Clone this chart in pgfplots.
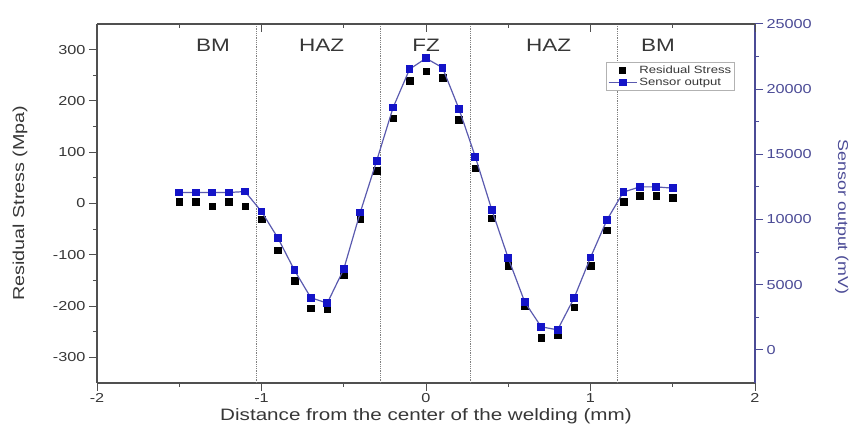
\documentclass[border=0pt]{standalone}
\usepackage{fontspec}
\setmainfont{Liberation Sans}[FakeStretch=1.25]
\usepackage{pgfplots}
\usepackage{pgfplotstable}
\pgfplotsset{compat=1.18}

\definecolor{axgray}{RGB}{80,80,80}
\definecolor{txtgray}{RGB}{55,55,55}
\definecolor{sensline}{RGB}{90,90,175}
\definecolor{sensmark}{RGB}{20,20,200}
\definecolor{sensaxis}{RGB}{75,75,150}

% distance (mm), residual stress (MPa), sensor output (mV)
\pgfplotstableread{
x     stress  sensor
-1.5    4     12070
-1.4    4     12070
-1.3   -5     12070
-1.2    4     12070
-1.1   -5     12140
-1.0  -31     10610
-0.9  -91      8570
-0.8 -151      6110
-0.7 -204      3990
-0.6 -206      3580
-0.5 -140      6190
-0.4  -30     10530
-0.3   64     14500
-0.2  166     18590
-0.1  240     21530
 0.0  258     22370
 0.1  245     21650
 0.2  163     18500
 0.3   69     14800
 0.4  -29     10740
 0.5 -121      7030
 0.6 -200      3670
 0.7 -262      1760
 0.8 -256      1530
 0.9 -202      3970
 1.0 -121      7080
 1.1  -52      9970
 1.2    4     12100
 1.3   15     12500
 1.4   15     12500
 1.5   11     12400
}\datatab

\begin{document}
\begin{tikzpicture}
\path[use as bounding box] (0,0) rectangle (858pt,427pt);
\pgfplotsset{every axis/.append style={
    scale only axis, width=658pt, height=359pt,
    at={(97pt,44pt)}, anchor=south west,
    xmin=-2, xmax=2,
    /pgf/number format/assume math mode=true,
    /pgf/number format/1000 sep={},
    major tick length=8pt, minor tick length=4pt,
    tick label style={font=\fontsize{13}{13}\selectfont, text=txtgray},
}}

% left axis: residual stress
\begin{axis}[
    axis x line*=bottom, axis y line*=left,
    ymin=-350, ymax=350,
    xtick={-2,-1,0,1,2}, minor x tick num=1,
    ytick={-300,-200,...,300}, minor y tick num=1,
    tick align=outside,
    xticklabel style={yshift=1pt},
    axis line style={axgray, line width=1.5pt},
    tick style={axgray, line width=1pt},
    xlabel={Distance from the center of the welding (mm)},
    ylabel={Residual Stress (Mpa)},
    every axis x label/.style={at={(axis description cs:0.5,-0.093)}, anchor=center,
        font=\fontsize{16.5}{16.5}\selectfont, text=txtgray},
    every axis y label/.style={at={(axis description cs:-0.117,0.501)}, anchor=center,
        rotate=90, font=\fontsize{15.8}{15.8}\selectfont, text=txtgray},
]
\foreach \xv in {-1.033,-0.28,0.267,1.161}{
    \edef\tmp{\noexpand\draw[gray, densely dotted, line width=0.8pt]
        (axis cs:\xv,-350) -- (axis cs:\xv,350);}\tmp
}
\foreach \xv/\lab in {-1.295/BM,-0.635/HAZ,0/FZ,0.745/HAZ,1.41/BM}{
    \edef\tmp{\noexpand\node[font=\noexpand\fontsize{18}{18}\noexpand\selectfont, text=txtgray]
        at (axis cs:\xv,309) {\lab};}\tmp
}
\addplot[only marks, mark=square*, mark size=3.3pt, black] table[x=x,y=stress]{\datatab};
\end{axis}

% right axis: sensor output
\begin{axis}[
    axis x line=none, axis y line*=right,
    ymin=-2550, ymax=25000,
    scaled y ticks=false,
    ytick={0,5000,...,25000}, minor y tick num=1,
    tick align=outside,
    axis line style={sensaxis, line width=1.5pt},
    tick style={sensaxis, line width=1pt},
    yticklabel style={text=sensaxis},
    ylabel={Sensor output (mV)},
    every axis y label/.style={at={(axis description cs:1.132,0.462)}, anchor=center,
        rotate=-90, font=\fontsize{14.3}{14.3}\selectfont, text=sensaxis},
    legend style={at={(0.9696,0.8936)}, anchor=north east, draw=gray!60,
        line width=0.6pt, font=\fontsize{10.5}{11}\selectfont, text=txtgray,
        inner sep=1.5pt, row sep=-1pt},
    legend cell align=left,
    legend image code/.code={\draw[mark repeat=2,mark phase=2,#1]
        plot coordinates {(0pt,0pt) (14pt,0pt) (28pt,0pt)};},
]
\addlegendimage{only marks, mark=square*, mark size=3pt, black}
\addlegendentry{Residual Stress}
\addplot[sensline, line width=1.2pt, mark=square*, mark size=3.3pt,
    mark options={sensmark, fill=sensmark}] table[x=x,y=sensor]{\datatab};
\addlegendentry{Sensor output}
\end{axis}

% top axis line with inward ticks
\begin{axis}[
    axis x line*=top, axis y line=none,
    ymin=0, ymax=1,
    xtick={-2,-1,0,1,2}, minor x tick num=1, xticklabels={},
    tick align=inside,
    axis line style={axgray, line width=1.5pt},
    tick style={axgray, line width=1pt},
]
\end{axis}
\end{tikzpicture}
\end{document}
